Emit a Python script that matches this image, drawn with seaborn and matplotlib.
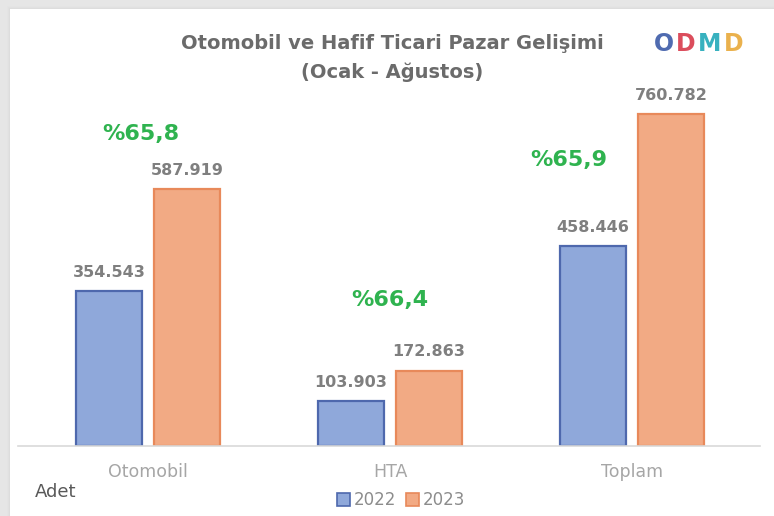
import pandas as pd
import seaborn as sns
import matplotlib.pyplot as plt
from matplotlib.patches import Rectangle

categories = ["Otomobil", "HTA", "Toplam"]
years = ["2022", "2023"]
sales_2022 = [354543, 103903, 458446]
sales_2023 = [587919, 172863, 760782]
growth_labels = ["%65,8", "%66,4", "%65,9"]

df = pd.DataFrame({
    "kategori": categories * 2,
    "yil": [years[0]] * 3 + [years[1]] * 3,
    "adet": sales_2022 + sales_2023,
})

def tr_num(v):
    return f"{int(round(v)):,}".replace(",", ".")

sns.set_theme(style="white")
plt.rcParams['font.family'] = ['DejaVu Sans']

fig = plt.figure(figsize=(7.74, 5.16), dpi=100)
fig.patch.set_facecolor("#e6e6e6")

# white card with a soft shadow
for i, a in enumerate([0.05, 0.08, 0.12]):
    off = (3 - i) / 774
    fig.patches.append(Rectangle((10 / 774 - off, 0), 1.1, 1 - 9 / 516 + off * 1.5,
                                 transform=fig.transFigure, facecolor="#c8c8c8",
                                 alpha=a, edgecolor="none", zorder=-3))
fig.patches.append(Rectangle((10 / 774, 0), 1.0, 1 - 9 / 516, transform=fig.transFigure,
                             facecolor="white", edgecolor="none", zorder=-2))

ax = fig.add_axes([18 / 774, 70 / 516, 742 / 774, 346 / 516])
ax.set_facecolor("none")
ax.set_zorder(2)

palette = {"2022": "#8fa8da", "2023": "#f2aa84"}
edges = {"2022": "#4e68ad", "2023": "#e8895a"}
sns.barplot(data=df, x="kategori", y="adet", hue="yil", order=categories,
            hue_order=years, palette=palette, width=0.645, gap=0.154,
            ax=ax, legend=False, saturation=1)

for cont, yr in zip(ax.containers, years):
    for bar in cont:
        bar.set_edgecolor(edges[yr])
        bar.set_linewidth(1.6)
    ax.bar_label(cont, labels=[tr_num(v) for v in cont.datavalues], padding=8,
                 fontsize=11.5, fontweight="bold", color="#7f7f7f")

ax.set_ylim(0, 792900)
ax.set_xlim(-0.537, 2.529)
ax.set_yticks([])
ax.set_xlabel("")
ax.set_ylabel("")
for s in ["top", "right", "left"]:
    ax.spines[s].set_visible(False)
ax.spines["bottom"].set_color("#d9d9d9")
ax.spines["bottom"].set_linewidth(1.2)
ax.tick_params(axis="x", length=0, pad=12, labelsize=12.5, labelcolor="#a6a6a6")

# growth labels (2023 vs 2022)
growth_pos = [(-0.03, 715000), (1.0, 334000), (1.74, 655000)]
for (gx, gy), lab in zip(growth_pos, growth_labels):
    ax.text(gx, gy, lab, ha="center", va="center", fontsize=16,
            fontweight="bold", color="#2fb34f")

fig.text(0.507, 0.915, "Otomobil ve Hafif Ticari Pazar Gelişimi", ha="center",
         va="center", fontsize=14, fontweight="bold", color="#6b6b6b")
fig.text(0.507, 0.86, "(Ocak - Ağustos)", ha="center", va="center",
         fontsize=14, fontweight="bold", color="#6b6b6b")

# logo
logo = [("O", "#3c5ba8", 664), ("D", "#d8394a", 686), ("M", "#22a9b8", 710),
        ("D", "#e8a93a", 734)]
for ch, col, lx in logo:
    fig.text(lx / 774, 0.915, ch, ha="center", va="center", fontsize=17,
             fontweight="heavy", color=col, alpha=0.9)

fig.text(35 / 774, 1 - 492 / 516, "Adet", ha="left", va="center",
         fontsize=13, color="#595959")

handles = [Rectangle((0, 0), 1, 1, facecolor=palette[y], edgecolor=edges[y], linewidth=1.2)
           for y in years]
fig.legend(handles, years, loc="center", bbox_to_anchor=(0.518, 1 - 500 / 516),
           ncol=2, frameon=False, fontsize=12, handlelength=0.8, handleheight=0.8,
           handletextpad=0.2, columnspacing=0.6, labelcolor="#8c8c8c")

fig.savefig("out.png", dpi=100)
